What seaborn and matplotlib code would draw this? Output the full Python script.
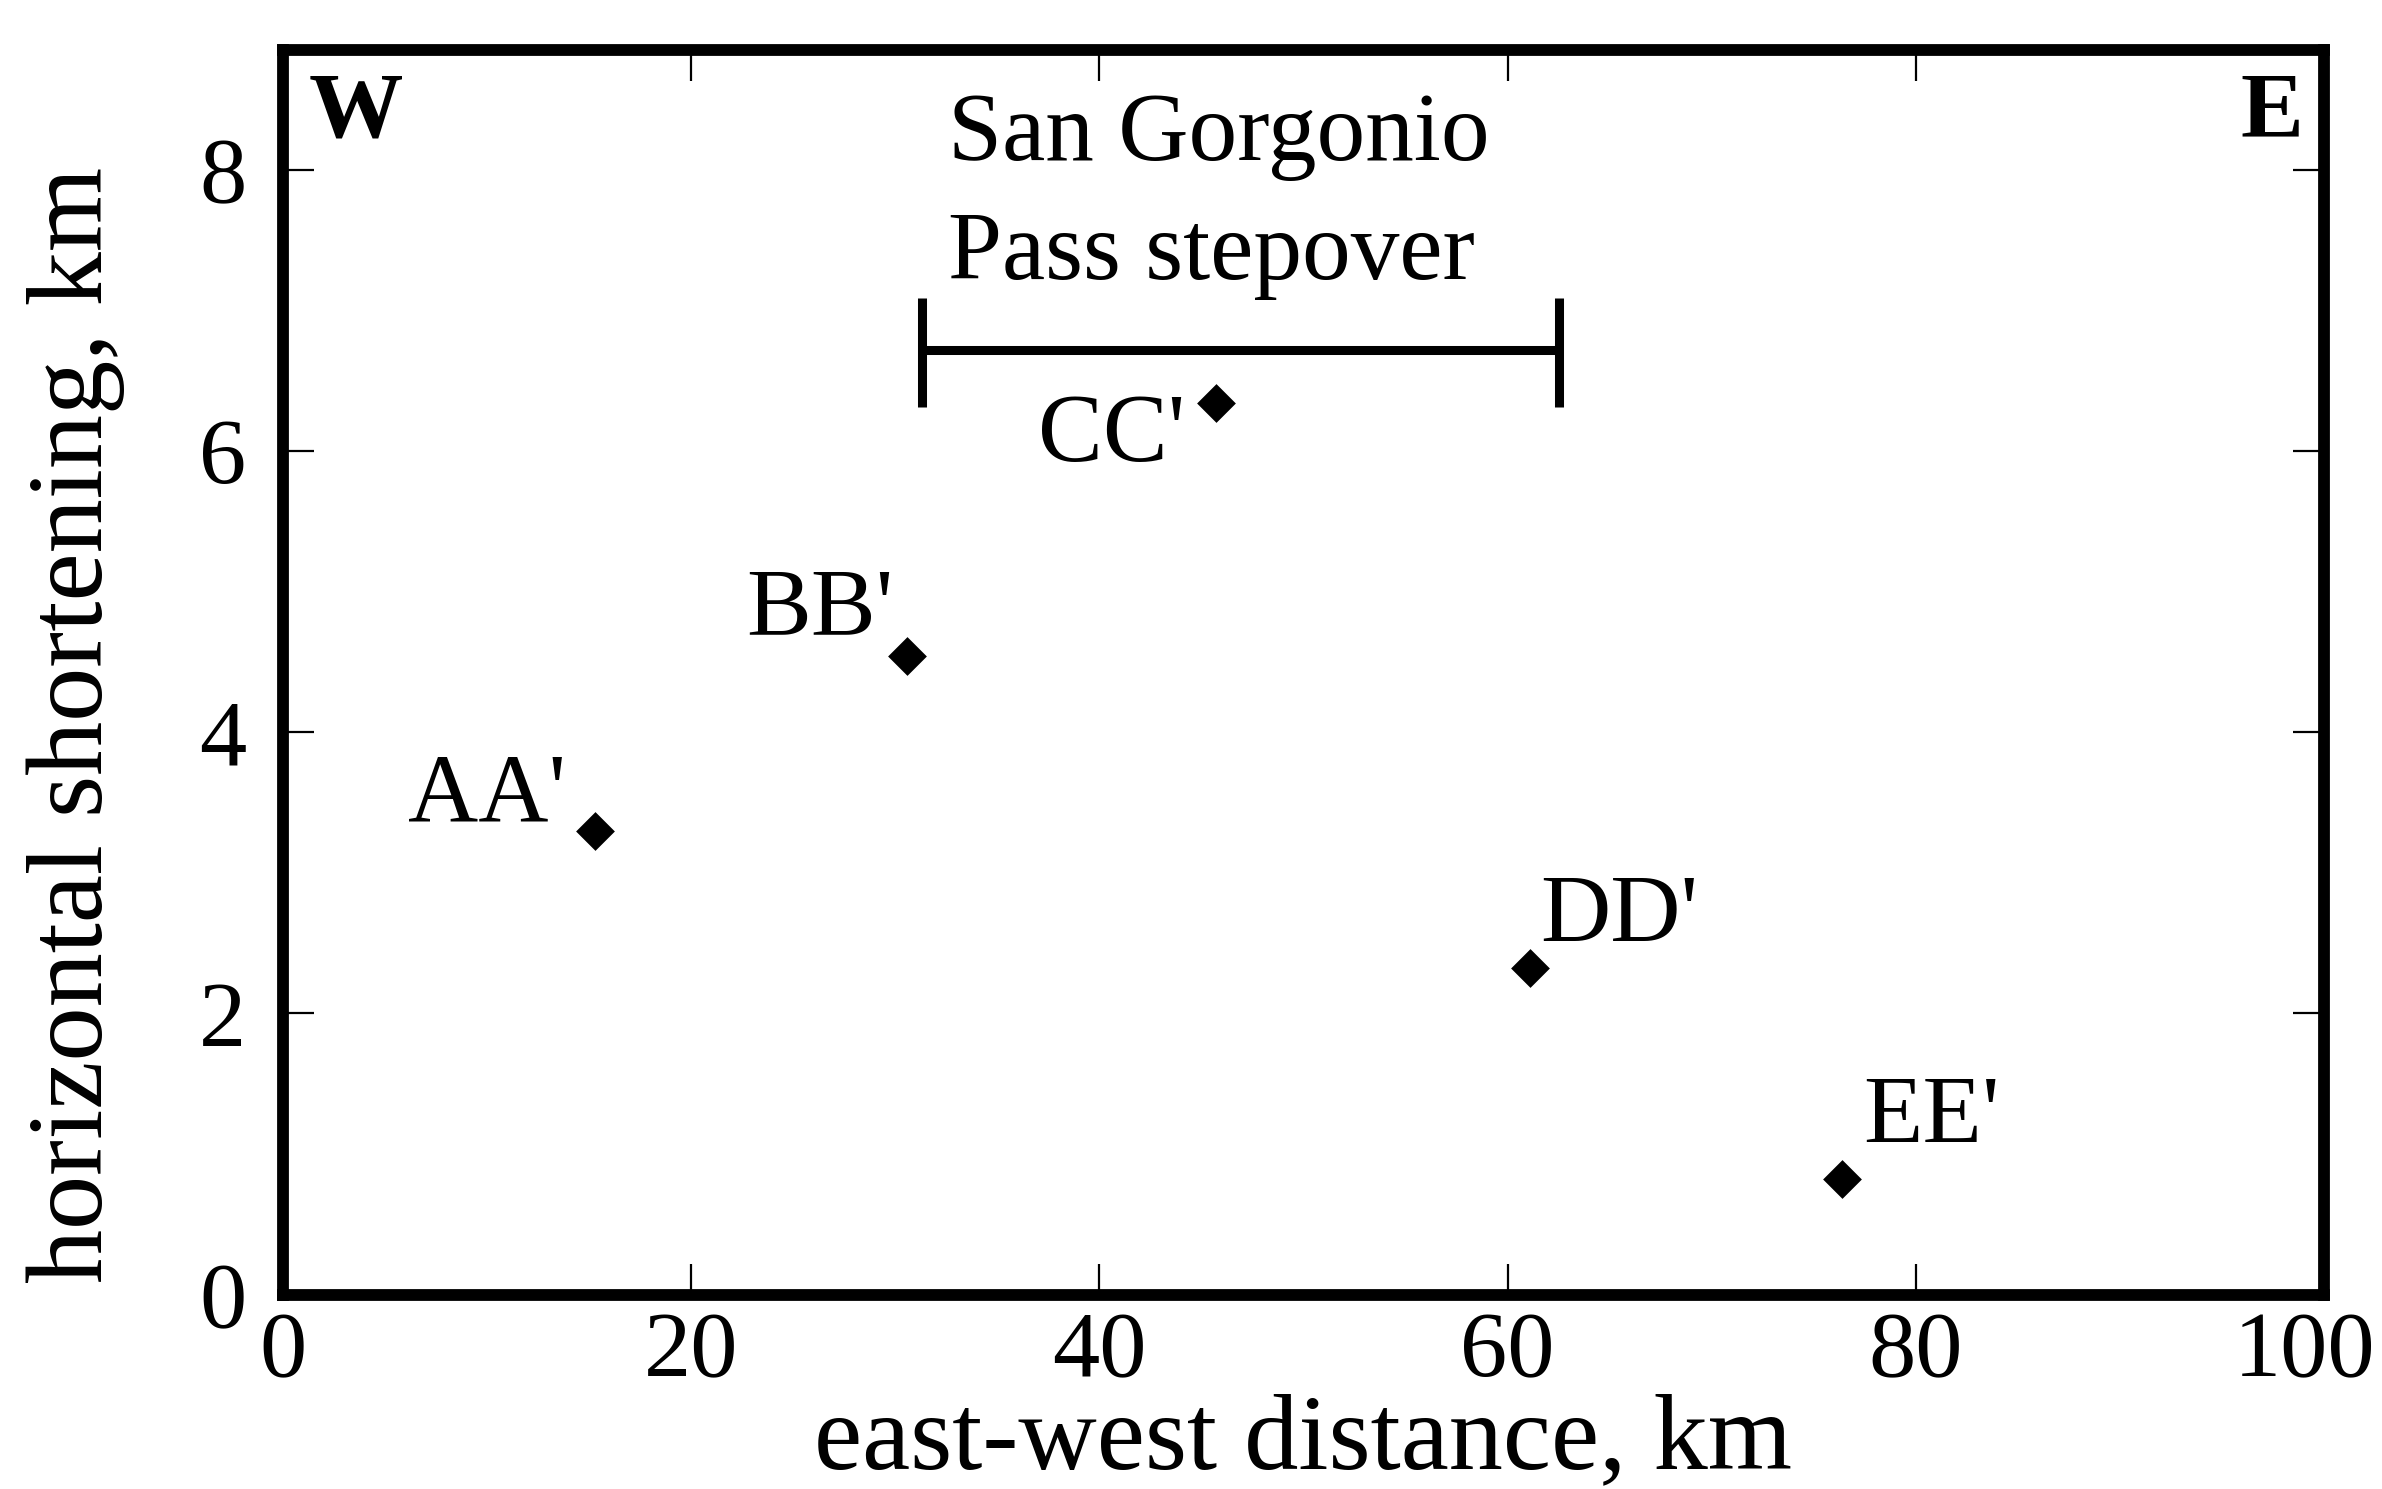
import matplotlib
matplotlib.use("Agg")
import matplotlib.pyplot as plt
from matplotlib.transforms import ScaledTranslation
import seaborn as sns
import pandas as pd

# ---- data ----
sections = ["AA'", "BB'", "CC'", "DD'", "EE'"]
distance_km = [15.3, 30.6, 45.7, 61.1, 76.4]
shortening_km = [3.30, 4.54, 6.34, 2.32, 0.82]

label_x = [13.9, 29.9, 44.2, 61.6, 77.4]
label_y = [3.37, 4.69, 5.93, 2.51, 1.08]
label_ha = ["right", "right", "right", "left", "left"]

stepover_x = [31.3, 62.5]
stepover_y = 6.72
stepover_cap = [6.31, 7.09]
stepover_lines = ["San Gorgonio", "Pass stepover"]
stepover_line_y = [8.07, 7.22]

xticks = [0, 20, 40, 60, 80, 100]
yticks = [0, 2, 4, 6, 8]

df = pd.DataFrame({"distance": distance_km, "shortening": shortening_km, "section": sections})

sns.set_theme(style="white")
plt.rcParams["font.family"] = ["Liberation Serif", "DejaVu Serif"]
plt.rcParams["text.color"] = "black"
plt.rcParams["axes.labelcolor"] = "black"
plt.rcParams["xtick.color"] = "black"
plt.rcParams["ytick.color"] = "black"

fig = plt.figure(figsize=(23.82, 14.89), dpi=100)
ax = fig.add_axes([0.1186, 0.1306, 0.8572, 0.8357])

sns.scatterplot(data=df, x="distance", y="shortening", marker="D", s=390,
                color="black", edgecolor="black", linewidth=0, ax=ax, zorder=3)

for lab, lx, ly, ha in zip(sections, label_x, label_y, label_ha):
    ax.text(lx, ly, lab, ha=ha, va="baseline", fontsize=70, color="black")

# stepover bracket
ax.plot(stepover_x, [stepover_y, stepover_y], color="black", lw=6.5, solid_capstyle="butt")
for sx in stepover_x:
    ax.plot([sx, sx], stepover_cap, color="black", lw=6.5, solid_capstyle="butt")
for line, ly in zip(stepover_lines, stepover_line_y):
    ax.text(32.6, ly, line, ha="left", va="baseline", fontsize=70, color="black")

ax.text(0.013, 0.983, "W", transform=ax.transAxes, ha="left", va="top",
        fontsize=68, fontweight="bold", color="black")
ax.text(0.99, 0.983, "E", transform=ax.transAxes, ha="right", va="top",
        fontsize=68, fontweight="bold", color="black")

ax.set_xlim(0, 100)
ax.set_ylim(0, 8.85)
ax.set_xticks(xticks)
ax.set_yticks(yticks)
ax.set_xticklabels([str(v) for v in xticks])
ax.set_yticklabels([str(v) for v in yticks])

ax.tick_params(direction="in", length=22, width=1.6, color="black",
               top=True, right=True, bottom=True, left=True,
               labelsize=68, labelcolor="black")
ax.tick_params(axis="x", pad=12)
ax.tick_params(axis="y", pad=26)
for s in ax.spines.values():
    s.set_visible(True)
    s.set_color("black")
    s.set_linewidth(8.5)

# nudge the last x tick label so it stays inside the figure, as in the reference
last = ax.get_xticklabels()[-1]
last.set_transform(last.get_transform() + ScaledTranslation(-14 / 72, 0, fig.dpi_scale_trans))

ax.set_xlabel("east-west distance, km", fontsize=78, color="black")
ax.set_ylabel("horizontal shortening, km", fontsize=78, color="black")
ax.xaxis.set_label_coords(0.5, -0.079)
ax.yaxis.set_label_coords(-0.077, 0.458)
ax.grid(False)

fig.savefig("out.png", dpi=100, facecolor="white")
